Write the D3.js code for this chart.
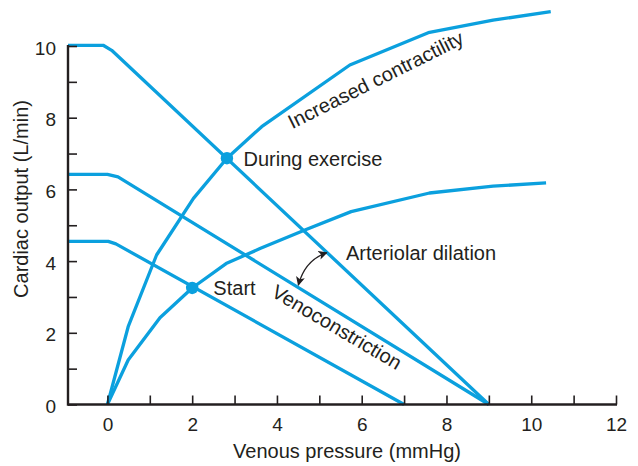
<!DOCTYPE html>
<html>
<head>
<meta charset="utf-8">
<script src="https://cdn.jsdelivr.net/npm/d3@7"></script>
<style>
  html, body { margin: 0; padding: 0; background: #fff; }
  svg text { font-family: "Liberation Sans", Arial, Helvetica, sans-serif; fill: #231f20; }
</style>
</head>
<body>
<svg id="chart" width="638" height="466"></svg>
<script>
// ---- Data ----
const xTicksMajor = [0, 2, 4, 6, 8, 10, 12];
const xTicksMinor = [0, 1, 2, 3, 4, 5, 6, 7, 8, 9, 10, 11, 12];
const yTicksMajor = [0, 2, 4, 6, 8, 10];
const yTicksMinor = [0, 1, 2, 3, 4, 5, 6, 7, 8, 9, 10];

// Cardiac function curves [venous pressure, cardiac output]
const cardiacNormal = [[0,0],[0.49,1.24],[1.24,2.42],[2,3.25],[2.8,3.93],[3.6,4.35],[4.66,4.87],[5.75,5.38],[7.6,5.9],[9.1,6.09],[10.35,6.18]];
const cardiacIncreased = [[0,0],[0.49,2.17],[1.16,4.17],[2.03,5.75],[2.82,6.87],[3.64,7.75],[5.72,9.47],[7.57,10.37],[9.1,10.72],[10.46,10.96]];

// Venous return curves
const venousStart = [[-0.93,4.55],[0.02,4.55],[0.2,4.48],[7,0]];
const venousConstriction = [[-0.93,6.42],[0,6.42],[0.25,6.35],[9,0]];
const venousDilation = [[-0.93,10.02],[-0.1,10.02],[0.1,9.88],[9,0]];

// Equilibrium points
const points = [
  { name: "Start", x: 2, y: 3.25 },
  { name: "During exercise", x: 2.82, y: 6.87 }
];

// Annotation labels (data coordinates)
const labels = [
  { text: "During exercise", x: 3.21, y: 6.65, angle: 0 },
  { text: "Start", x: 2.50, y: 3.05, angle: 0 },
  { text: "Arteriolar dilation", x: 5.63, y: 4.03, angle: 0 },
  { text: "Venoconstriction", x: 3.84, y: 3.03, angle: 30.5 },
  { text: "Increased contractility", x: 4.36, y: 7.68, angle: -26.5 }
];

// Curved double arrow (from, control, to) in data coordinates
const arrowPts = { from: [5.175, 4.234], ctrl: [4.663, 4.03], to: [4.505, 3.333] };

const xTitle = "Venous pressure (mmHg)";
const yTitle = "Cardiac output (L/min)";

// ---- Drawing ----
const svg = d3.select("#chart");
const blue = "#0ba0de";
const ink = "#231f20";

const x = d3.scaleLinear().domain([-0.93, 12]).range([68, 616]);
const y = d3.scaleLinear().domain([0, 10]).range([404.5, 46]);

const defs = svg.append("defs");
defs.append("marker")
  .attr("id", "ah")
  .attr("viewBox", "0 0 10 10")
  .attr("refX", 9).attr("refY", 5)
  .attr("markerWidth", 9).attr("markerHeight", 9)
  .attr("markerUnits", "userSpaceOnUse")
  .attr("orient", "auto-start-reverse")
  .append("path")
  .attr("d", "M0,0 L10,5 L0,10 L2.5,5 Z")
  .attr("fill", ink);

// Curves
const line = d3.line().x(d => x(d[0])).y(d => y(d[1])).curve(d3.curveLinear);
const series = [venousStart, venousConstriction, venousDilation, cardiacNormal, cardiacIncreased];
svg.append("g").selectAll("path").data(series).join("path")
  .attr("d", line)
  .attr("fill", "none")
  .attr("stroke", blue)
  .attr("stroke-width", 3.3)
  .attr("stroke-linejoin", "round")
  .attr("stroke-linecap", "butt");

// Axes
const xAxisMinor = d3.axisTop(x).tickValues(xTicksMinor).tickSize(9).tickFormat("").tickSizeOuter(0);
const gx = svg.append("g").attr("transform", `translate(0,${y(0)})`).call(xAxisMinor);
gx.select(".domain").remove();
gx.selectAll(".tick line").attr("stroke", ink).attr("stroke-width", 1.6);
svg.append("line")
  .attr("x1", x(-0.93)).attr("x2", x(12) + 1)
  .attr("y1", y(0)).attr("y2", y(0))
  .attr("stroke", ink).attr("stroke-width", 2.4);

const gxl = svg.append("g").attr("transform", `translate(0,${y(0)})`)
  .call(d3.axisBottom(x).tickValues(xTicksMajor).tickSize(0).tickPadding(0));
gxl.select(".domain").remove();
gxl.selectAll("text").attr("font-size", 19).attr("dy", 0).attr("y", 26)
  .style("font-family", "'Liberation Sans', Arial, sans-serif").attr("fill", ink);

const yAxisMinor = d3.axisRight(y).tickValues(yTicksMinor).tickSize(9).tickFormat("").tickSizeOuter(0);
const gy = svg.append("g").attr("transform", `translate(${x(-0.93)},0)`).call(yAxisMinor);
gy.select(".domain").remove();
gy.selectAll(".tick line").attr("stroke", ink).attr("stroke-width", 1.6);
svg.append("line")
  .attr("x1", x(-0.93)).attr("x2", x(-0.93))
  .attr("y1", y(0) + 1.2).attr("y2", y(10) - 1)
  .attr("stroke", ink).attr("stroke-width", 2.4);

const gyl = svg.append("g").attr("transform", `translate(${x(-0.93)},0)`)
  .call(d3.axisLeft(y).tickValues(yTicksMajor).tickSize(0).tickPadding(12));
gyl.select(".domain").remove();
gyl.selectAll("text").attr("font-size", 19).attr("dy", 0).attr("y", 8)
  .style("font-family", "'Liberation Sans', Arial, sans-serif").attr("fill", ink);

// Axis titles
svg.append("text")
  .attr("x", 347).attr("y", 458)
  .attr("text-anchor", "middle")
  .attr("font-size", 20)
  .text(xTitle);
svg.append("text")
  .attr("transform", "translate(28,199) rotate(-90)")
  .attr("text-anchor", "middle")
  .attr("font-size", 20)
  .text(yTitle);

// Equilibrium dots
svg.append("g").selectAll("circle").data(points).join("circle")
  .attr("cx", d => x(d.x)).attr("cy", d => y(d.y))
  .attr("r", 6.2).attr("fill", blue);

// Labels
svg.append("g").selectAll("text").data(labels).join("text")
  .attr("transform", d => `translate(${x(d.x)},${y(d.y)}) rotate(${d.angle})`)
  .attr("font-size", 20)
  .text(d => d.text);

// Arrow
const ap = d3.path();
ap.moveTo(x(arrowPts.from[0]), y(arrowPts.from[1]));
ap.quadraticCurveTo(x(arrowPts.ctrl[0]), y(arrowPts.ctrl[1]), x(arrowPts.to[0]), y(arrowPts.to[1]));
svg.append("path")
  .attr("d", ap.toString())
  .attr("fill", "none")
  .attr("stroke", ink)
  .attr("stroke-width", 1.3)
  .attr("marker-start", "url(#ah)")
  .attr("marker-end", "url(#ah)");
</script>
</body>
</html>
